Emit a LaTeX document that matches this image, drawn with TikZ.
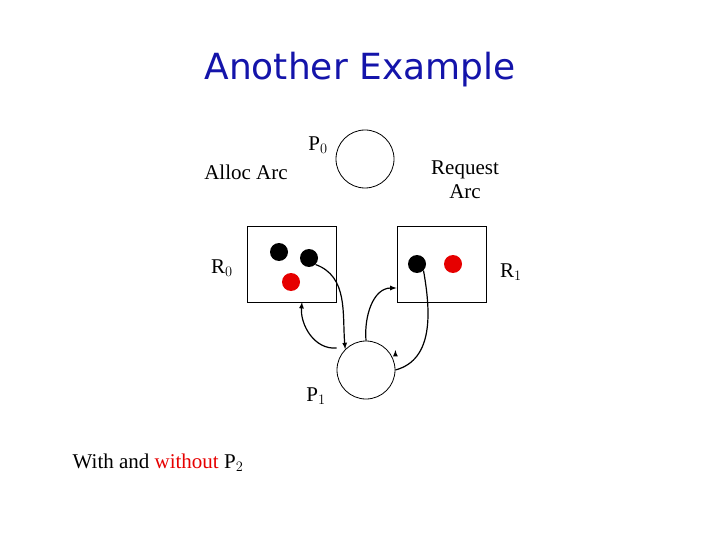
\documentclass[tikz,border=0pt]{standalone}
\usepackage{fontspec}
\setmainfont{Liberation Serif}
\newfontfamily\titlefont{DejaVu Sans}
\usetikzlibrary{positioning}
\definecolor{titleblue}{RGB}{20,20,170}
\definecolor{dotred}{RGB}{230,0,0}
\tikzset{
	proc/.style={draw,thick,circle,minimum size=58pt,inner sep=0pt},
	res/.style={draw,thick,minimum width=89pt,minimum height=76pt,inner sep=0pt},
	tok/.style={circle,fill=#1,minimum size=18pt,inner sep=0pt},
	lbl/.style={font=\fontsize{21}{24}\selectfont},
	arc/.style={-latex,very thick}
}
\begin{document}
\begin{tikzpicture}[x=1pt,y=-1pt]
	\useasboundingbox (0,0) rectangle (720,540);
	\node[text=titleblue,font=\titlefont\fontsize{36}{40}\selectfont] (title) at (360,70) {Another Example};
	% processes
	\node[proc] (p0) at (365,159) {};
	\node[proc] (p1) at (366,370) {};
	\node[lbl] (p0lbl) at (318,145) {P$_0$};
	\node[lbl] (p1lbl) at (316,396) {P$_1$};
	% resources
	\node[res] (r0) at (291.5,264) {};
	\node[res] (r1) at (441.5,264) {};
	\node[lbl] (r0lbl) at (222,268) {R$_0$};
	\node[lbl] (r1lbl) at (511,272) {R$_1$};
	\node[tok=black] (a) at (279,252) {};
	\node[tok=black] (b) at (309,258) {};
	\node[tok=dotred] (c) at (291,282) {};
	\node[tok=black] (d) at (417,264) {};
	\node[tok=dotred] (e) at (453,264) {};
	% labels
	\node[lbl] (alloc) at (246,172) {Alloc Arc};
	\node[lbl,align=center] (req) at (465,180) {Request\\Arc};
	\node[lbl] (note) at (158,463) {With and \textcolor{dotred}{without} P$_2$};
	% arcs
	\draw[arc] (b.south east) to[out=-20,in=95] (p1.north west);
	\draw[arc] (p1.west) ++(0,-22) to[out=185,in=-95] (302,302);
	\draw[arc] (p1.north) to[out=95,in=180] (r1.west |- 0,288);
	\draw[arc] (d.south east) to[out=-80,in=15] (p1.east) ++(0,-20);
\end{tikzpicture}
\end{document}
